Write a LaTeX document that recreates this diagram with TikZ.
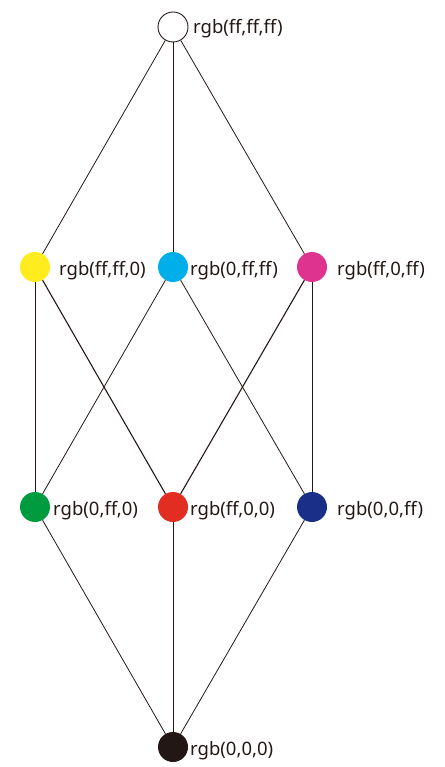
\documentclass[tikz,border=0pt]{standalone}
\usepackage{fontspec}
\setmainfont{Noto Sans}
\definecolor{cyel}{HTML}{FFEC1E}
\definecolor{ccya}{HTML}{00AEEA}
\definecolor{cmag}{HTML}{DF3390}
\definecolor{cgrn}{HTML}{009B3E}
\definecolor{cred}{HTML}{E22D22}
\definecolor{cblu}{HTML}{1A3088}
\definecolor{cblk}{HTML}{221714}
\definecolor{ctxt}{HTML}{231815}
\begin{document}
\begin{tikzpicture}[x=1pt,y=-1pt,
  dot/.style={circle,minimum size=30pt,inner sep=0pt},
  lbl/.style={anchor=base west,inner sep=0pt,text=ctxt,font=\fontsize{18.5}{20}\selectfont},
  edge/.style={draw=ctxt,line width=0.8pt}]
\useasboundingbox (0,0) rectangle (444,767);
% lattice vertices
\node[dot,draw=ctxt,fill=white,line width=0.9pt] (w) at (173,27) {};
\node[dot,fill=cyel] (y) at (35,267) {};
\node[dot,fill=ccya] (c) at (173,267) {};
\node[dot,fill=cmag] (m) at (312,267) {};
\node[dot,fill=cgrn] (g) at (35,507) {};
\node[dot,fill=cred] (r) at (173,507) {};
\node[dot,fill=cblu] (b) at (312,507) {};
\node[dot,fill=cblk] (k) at (173,747) {};
% edges of the lattice
\draw[edge] (w) -- (y);
\draw[edge] (w) -- (c);
\draw[edge] (w) -- (m);
\draw[edge] (y) -- (g);
\draw[edge,line width=1.1pt] (y) -- (r);
\draw[edge] (c) -- (g);
\draw[edge] (c) -- (b);
\draw[edge,line width=1.1pt] (m) -- (r);
\draw[edge] (m) -- (b);
\draw[edge] (g) -- (k);
\draw[edge] (r) -- (k);
\draw[edge] (b) -- (k);
% labels
\node[lbl] (lw) at (193,34) {rgb(ff,ff,ff)};
\node[lbl] (ly) at (59,275) {rgb(ff,ff,0)};
\node[lbl] (lc) at (190,275) {rgb(0,ff,ff)};
\node[lbl] (lm) at (337,275) {rgb(ff,0,ff)};
\node[lbl] (lg) at (53,515) {rgb(0,ff,0)};
\node[lbl] (lr) at (190,515) {rgb(ff,0,0)};
\node[lbl] (lb) at (337,515) {rgb(0,0,ff)};
\node[lbl] (lk) at (190,755) {rgb(0,0,0)};
\end{tikzpicture}
\end{document}
